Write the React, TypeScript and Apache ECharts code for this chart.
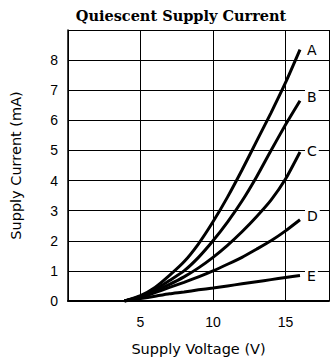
import React, { useEffect, useRef } from "react";
import * as echarts from "echarts";

const titleText = "Quiescent Supply Current";
const xName = "Supply Voltage (V)";
const yName = "Supply Current (mA)";

const voltage = [3.9, 5, 6, 7, 8, 9, 10, 11, 12, 13, 14, 15, 16];
const curveA = [0, 0.18, 0.45, 0.85, 1.3, 1.9, 2.63, 3.45, 4.35, 5.3, 6.25, 7.25, 8.35];
const curveB = [0, 0.15, 0.38, 0.68, 1.0, 1.45, 2.0, 2.62, 3.32, 4.12, 5.0, 5.85, 6.65];
const curveC = [0, 0.13, 0.33, 0.55, 0.8, 1.1, 1.45, 1.85, 2.3, 2.8, 3.35, 4.05, 4.95];
const curveD = [0, 0.12, 0.28, 0.45, 0.62, 0.8, 1.0, 1.22, 1.45, 1.72, 2.0, 2.33, 2.7];
const curveE = [0, 0.08, 0.16, 0.24, 0.3, 0.37, 0.43, 0.5, 0.57, 0.64, 0.71, 0.78, 0.85];

const curveNames = ["A", "B", "C", "D", "E"];
const curveValues = [curveA, curveB, curveC, curveD, curveE];
const labelShift = [0, -4, -1, -4, 1];

const xTickLabels = [5, 10, 15];
const yTickMax = 8;

export default function App() {
  const ref = useRef<HTMLDivElement>(null);
  useEffect(() => {
    if (!ref.current) return;
    const chart = echarts.init(ref.current, null, { renderer: "svg" });
    const sans = "DejaVu Sans";
    chart.setOption({
      animation: false,
      backgroundColor: "#fff",
      title: {
        text: titleText,
        left: 176,
        top: 3,
        textAlign: "center",
        textStyle: {
          fontFamily: "DejaVu Serif",
          fontWeight: "bold",
          fontSize: 14.5,
          color: "#000",
        },
      },
      grid: { left: 66, right: 0, top: 30, bottom: 60 },
      xAxis: {
        type: "value",
        min: 0,
        max: 18,
        interval: 5,
        name: xName,
        nameLocation: "middle",
        nameGap: 40,
        nameTextStyle: { fontFamily: sans, fontSize: 14.5, color: "#000" },
        axisLine: { show: true, lineStyle: { color: "#000", width: 2 } },
        axisTick: { show: false },
        axisLabel: {
          margin: 14,
          fontFamily: "Liberation Sans",
          fontSize: 14,
          color: "#000",
          formatter: (v: number) => (xTickLabels.includes(v) ? String(v) : ""),
        },
        splitLine: { show: true, lineStyle: { color: "#000", width: 1 } },
      },
      yAxis: {
        type: "value",
        min: 0,
        max: 9,
        interval: 1,
        name: yName,
        nameLocation: "middle",
        nameGap: 45,
        nameTextStyle: { fontFamily: sans, fontSize: 14.5, color: "#000" },
        axisLine: { show: true, lineStyle: { color: "#000", width: 1.5 } },
        axisTick: { show: false },
        axisLabel: {
          margin: 10,
          fontFamily: "Liberation Sans",
          fontSize: 14,
          color: "#000",
          formatter: (v: number) => (v <= yTickMax ? String(v) : ""),
        },
        splitLine: { show: true, lineStyle: { color: "#000", width: 1 } },
      },
      series: curveNames.map((name, i) => ({
        name,
        type: "line",
        smooth: 0.2,
        symbol: "none",
        data: voltage.map((v, j) => [v, curveValues[i][j]]),
        lineStyle: { color: "#000", width: 3 },
        endLabel: {
          show: true,
          formatter: "{a}",
          distance: 5,
          offset: [0, labelShift[i]],
          color: "#000",
          fontFamily: sans,
          fontSize: 14,
          backgroundColor: "#fff",
          padding: [1, 2],
        },
      })),
    });
    return () => chart.dispose();
  }, []);
  return (
    <div
      ref={ref}
      style={{ position: "absolute", left: 0, top: 0, width: 332, height: 361 }}
    />
  );
}
